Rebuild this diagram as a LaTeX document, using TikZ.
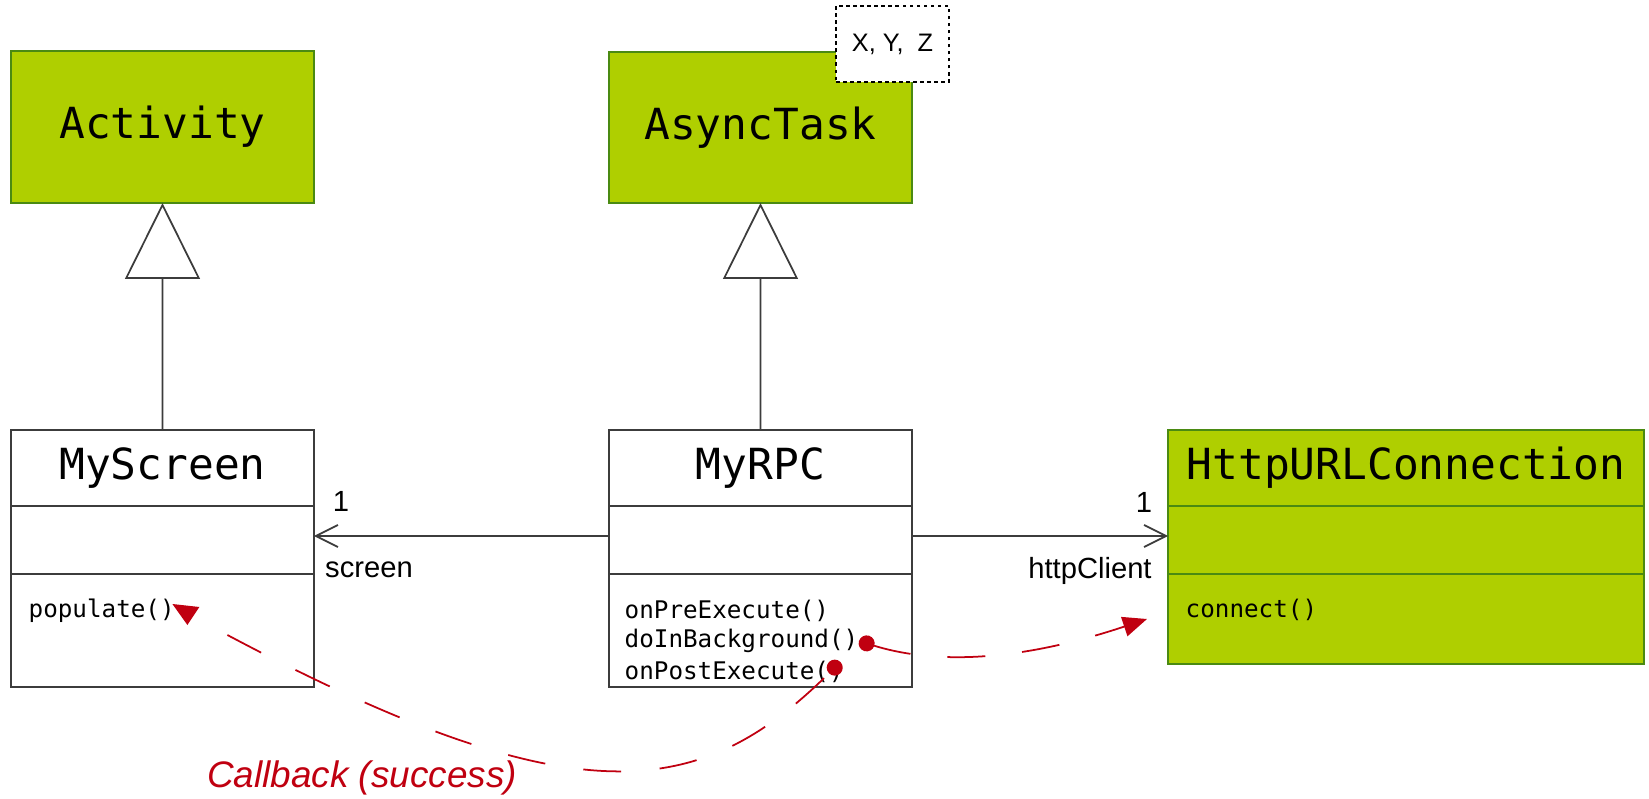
\documentclass[tikz,border=0pt]{standalone}
\usepackage{fontspec}
\setmainfont{Liberation Sans}
\newfontfamily\codefont{DejaVu Sans Mono}
\usepackage{tikz}
\usetikzlibrary{positioning,arrows.meta}
\definecolor{umlgreen}{HTML}{AFCF00}
\definecolor{umlgreenedge}{HTML}{4A8A12}
\definecolor{umlline}{HTML}{3C3C3C}
\definecolor{cbred}{HTML}{C00010}

\begin{document}
\begin{tikzpicture}[x=0.1mm,y=-0.1mm,
  box/.style={line width=0.5pt,inner sep=0pt,outer sep=0pt},
  ops/.style={inner sep=0pt,anchor=west,font=\fontsize{6.9}{8.7}\selectfont\codefont},
  lbl/.style={inner sep=0pt,font=\fontsize{8.3}{10}\selectfont},
  gen/.style={draw=umlline,line width=0.5pt,-{Triangle[open,length=7.6mm,width=7.5mm]}},
  assoc/.style={draw=umlline,line width=0.5pt,-{Straight Barb[length=2.2mm,width=2.2mm]}},
  call/.style={cbred,line width=0.5pt,dash pattern=on 3.8mm off 3.7mm}]
  \useasboundingbox (0,0) rectangle (1649,799);
  \def\clsfont{\fontsize{12.2}{14}\selectfont\codefont}

  % superclasses
  \node[box,draw=umlgreenedge,fill=umlgreen,minimum width=30.3mm,minimum height=15.2mm,font=\clsfont] (activity) at (162.5,127) {Activity};
  \node[box,draw=umlgreenedge,fill=umlgreen,minimum width=30.3mm,minimum height=15.1mm,font=\clsfont] (asynctask) at (760.5,127.5) {AsyncTask};
  \node[draw=black,fill=white,dash pattern=on 1pt off 1pt,line width=0.4pt,minimum width=11.3mm,minimum height=7.6mm,font=\fontsize{7.2}{9}\selectfont] (typeargs) at (892.5,44) {X, Y,\ \ Z};

  % classes: name, attributes, operations
  \foreach \n/\x/\w/\fc/\dc/\hb/\lab in {
    myscreen/11/30.3/white/umlline/11.3/MyScreen,
    myrpc/609/30.3/white/umlline/11.3/MyRPC,
    httpconn/1168/47.6/umlgreen/umlgreenedge/9/HttpURLConnection}
  {
    \node[box,fill=\fc,draw=\dc,minimum width=\w mm,minimum height=7.6mm,anchor=north west,font=\clsfont] (\n) at (\x,430) {\lab};
    \node[box,fill=\fc,draw=\dc,minimum width=\w mm,minimum height=6.8mm,below=0pt of \n] (\n-a) {};
    \node[box,fill=\fc,draw=\dc,minimum width=\w mm,minimum height=\hb mm,below=0pt of \n-a] (\n-m) {};
  }

  % inheritance
  \draw[gen] (myscreen.north) -- (activity.south);
  \draw[gen] (myrpc.north) -- (asynctask.south);

  % associations
  \draw[assoc] ([yshift=0.4mm]myrpc-a.west) -- ([yshift=0.4mm]myscreen-a.east);
  \draw[assoc] ([yshift=0.4mm]myrpc-a.east) -- ([yshift=0.4mm]httpconn-a.west);
  \node[lbl] (screenmult) at (341,501) {1};
  \node[lbl] (screenrole) at (369,570) {screen};
  \node[lbl] (httpmult) at (1144,502) {1};
  \node[lbl] (httprole) at (1090,571) {httpClient};

  % operations
  \node[ops] (populate) at (28,611) {populate()};
  \node[ops] (pre) at (624,611) {onPreExecute()};
  \node[ops] (bg) at (624,641) {doInBackground()};
  \node[ops] (post) at (624,672) {onPostExecute()};
  \node[ops] (connect) at (1185,610) {connect()};

  % calls
  \draw[call,{Circle[length=1.6mm]}-{Triangle[length=2.4mm,width=2mm]}] (bg.east) .. controls (920,660) and (1000,668) .. ([xshift=-2.1mm]httpconn-m.west);
  \draw[call,dash pattern=on 3.8mm off 3.85mm,-{Circle[length=1.6mm]}] ([xshift=5.2mm,yshift=-2.4mm]populate.east) .. controls (580,822) and (702,799) .. ([xshift=-0.4mm,yshift=1mm]post.east);
  \fill[cbred] ([xshift=-0.3mm,yshift=0.7mm]populate.east) -- ++(27,3) -- ++(-12,18) -- cycle;
  \node[lbl,text=cbred,font=\fontsize{10.5}{12}\selectfont\itshape] (callback) at (362,778) {Callback (success)};
\end{tikzpicture}
\end{document}
